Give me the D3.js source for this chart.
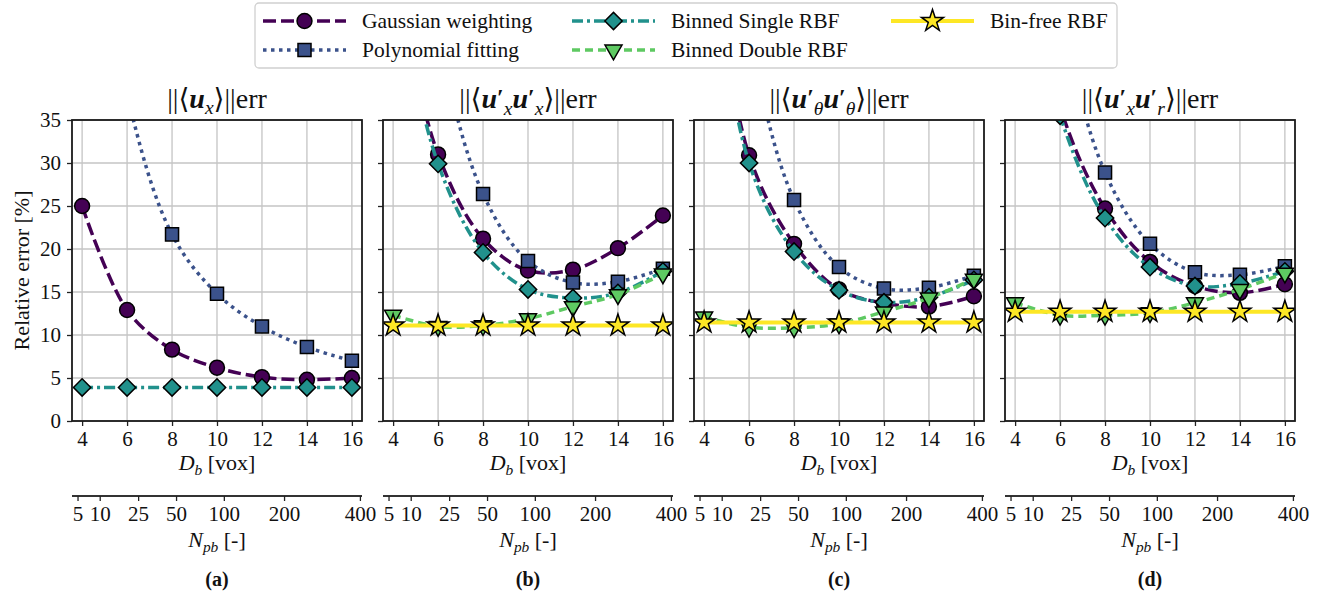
<!DOCTYPE html>
<html>
<head>
<meta charset="utf-8">
<script src="https://cdn.jsdelivr.net/npm/d3@7"></script>
<style>
  body { margin: 0; background: #fff; }
  svg, svg text { font-family: "Liberation Serif", "DejaVu Serif", serif; }
</style>
</head>
<body>
<div id="vis"></div>
<script>
// Tick values / labels
const dbTicks = [4, 6, 8, 10, 12, 14, 16];
const npbTicks = [5, 10, 25, 50, 100, 200, 400];
const yTicks = [0, 5, 10, 15, 20, 25, 30, 35];
const panelLabels = ['(a)', '(b)', '(c)', '(d)'];
const methodNames = ['Gaussian weighting', 'Polynomial fitting', 'Binned Single RBF', 'Binned Double RBF', 'Bin-free RBF'];

// Relative error [%] at D_b = 4..16, one row per panel (values > 35 run off the top)
const gaussianErr = [
  [25.0, 12.9, 8.3, 6.2, 5.1, 4.8, 5.0],
  [52, 31.0, 21.2, 17.5, 17.6, 20.1, 23.9],
  [60, 30.9, 20.6, 15.3, 13.7, 13.3, 14.5],
  [60, 36.5, 24.7, 18.5, 15.7, 14.9, 15.9]
];
const polyErr = [
  [70, 38, 21.7, 14.8, 11.0, 8.6, 7.0],
  [80, 45, 26.4, 18.6, 16.1, 16.2, 17.7],
  [80, 45, 25.7, 17.9, 15.4, 15.5, 16.9],
  [85, 48, 28.9, 20.6, 17.3, 17.0, 18.0]
];
const singleErr = [
  [3.9, 3.9, 3.9, 3.9, 3.9, 3.9, 3.9],
  [52, 29.9, 19.6, 15.3, 14.3, 14.9, 17.4],
  [60, 30.0, 19.7, 15.2, 13.8, 14.4, 16.4],
  [58, 35.5, 23.6, 17.9, 15.7, 16.0, 17.4]
];
const doubleErr = [
  null,
  [12.3, 11.0, 11.1, 11.9, 13.3, 14.7, 17.1],
  [12.1, 10.9, 10.85, 11.3, 12.7, 14.3, 16.5],
  [13.75, 12.3, 12.3, 12.6, 13.75, 15.3, 17.2]
];
const binfreeErr = [
  null,
  [11.1, 11.1, 11.1, 11.1, 11.1, 11.1, 11.1],
  [11.45, 11.45, 11.45, 11.45, 11.45, 11.45, 11.45],
  [12.7, 12.7, 12.7, 12.7, 12.7, 12.7, 12.7]
];
const methodData = [gaussianErr, polyErr, singleErr, doubleErr, binfreeErr];

// D_b ~ 2.22 * N_pb^(1/3)
const npbFactor = 2.22;

// Titles as math tokens
const panelTitles = [
  [['n', '||⟨'], ['b', 'u'], ['sub', 'x'], ['n', '⟩||err']],
  [['n', '||⟨'], ['b', 'u'], ['pr', 'x'], ['b', 'u'], ['pr', 'x'], ['n', '⟩||err']],
  [['n', '||⟨'], ['b', 'u'], ['pr', 'θ'], ['b', 'u'], ['pr', 'θ'], ['n', '⟩||err']],
  [['n', '||⟨'], ['b', 'u'], ['pr', 'x'], ['b', 'u'], ['pr', 'r'], ['n', '⟩||err']]
];

// Styles
const methodStyles = [
  { color: '#440154', dash: '13,5', width: 3.5, symbol: d3.symbolCircle, size: 175, rotate: 0 },
  { color: '#3b528b', dash: '3.5,4.5', width: 3.5, symbol: d3.symbolSquare, size: 170, rotate: 0 },
  { color: '#21918c', dash: '11,4,3,4', width: 3.5, symbol: d3.symbolSquare, size: 150, rotate: 45 },
  { color: '#5ec962', dash: '8,5', width: 3.5, symbol: d3.symbolTriangle, size: 125, rotate: 180 },
  { color: '#fde725', dash: null, width: 4, symbol: d3.symbolStar, size: 150, rotate: 0 }
];

const FONT = 'Liberation Serif';
const W = 1320, H = 596;
const panelLeft = [72, 383, 694, 1005];
const panelW = 290;
const plotTop = 120, plotBottom = 421;
const npbAxisY = 496;

const svg = d3.select('#vis').append('svg')
  .attr('width', W).attr('height', H)
  .attr('font-family', FONT);

// simple math text: n normal, i italic, b bold italic, sub subscript, pr prime + subscript
function writeMath(text, tokens, size) {
  let shift = 0;
  tokens.forEach(([kind, s]) => {
    if (kind === 'n' || kind === 'i' || kind === 'b') {
      const t = text.append('tspan').attr('dy', -shift).text(s);
      if (kind !== 'n') t.attr('font-style', 'italic');
      if (kind === 'b') t.attr('font-weight', 'bold');
      shift = 0;
    } else if (kind === 'sub') {
      const d = 0.22 * size;
      text.append('tspan').attr('dy', d - shift).attr('font-size', 0.7 * size)
        .attr('font-style', 'italic').text(s);
      shift = d;
    } else if (kind === 'pr') {
      const up = -0.1 * size;
      text.append('tspan').attr('dy', up - shift).attr('font-size', 0.85 * size)
        .attr('font-weight', 'bold').text('′');
      shift = up;
      const d = 0.24 * size;
      text.append('tspan').attr('dy', d - shift)
        .attr('font-size', 0.7 * size).attr('font-style', 'italic').text(s);
      shift = d;
    }
  });
}

function drawMarkers(g, pts, st) {
  g.selectAll(null).data(pts).join('path')
    .attr('d', d3.symbol().type(st.symbol).size(st.size))
    .attr('transform', d => `translate(${d[0]},${d[1]}) rotate(${st.rotate})`)
    .attr('fill', st.color)
    .attr('stroke', '#000')
    .attr('stroke-width', 1.5);
}

function styleAxis(a) {
  a.attr('font-family', FONT);
  a.select('.domain').remove();
  a.selectAll('line').attr('stroke', '#222').attr('stroke-width', 1.3);
  a.selectAll('text').attr('font-size', 21).attr('fill', '#111').attr('font-family', FONT);
}

panelLeft.forEach((x0, i) => {
  const g = svg.append('g');
  const xScale = d3.scaleLinear().domain([3.55, 16.45]).range([x0, x0 + panelW]);
  const yScale = d3.scaleLinear().domain([0, 35]).range([plotBottom, plotTop]);
  const cx = x0 + panelW / 2;

  // grid
  g.selectAll(null).data(dbTicks).join('line')
    .attr('x1', d => xScale(d)).attr('x2', d => xScale(d))
    .attr('y1', plotTop).attr('y2', plotBottom)
    .attr('stroke', '#c4c4c4').attr('stroke-width', 1.3);
  g.selectAll(null).data(yTicks).join('line')
    .attr('x1', x0).attr('x2', x0 + panelW)
    .attr('y1', d => yScale(d)).attr('y2', d => yScale(d))
    .attr('stroke', '#c4c4c4').attr('stroke-width', 1.3);

  // clip
  const clipId = 'clip' + i;
  svg.append('clipPath').attr('id', clipId).append('rect')
    .attr('x', x0).attr('y', plotTop).attr('width', panelW).attr('height', plotBottom - plotTop);
  const plot = g.append('g').attr('clip-path', `url(#${clipId})`);

  const line = d3.line()
    .x(d => d[0]).y(d => d[1])
    .curve(d3.curveCatmullRom.alpha(0.5));

  methodData.forEach((series, m) => {
    const vals = series[i];
    if (!vals) return;
    const st = methodStyles[m];
    const pts = vals.map((v, k) => [xScale(dbTicks[k]), yScale(v)]);
    plot.append('path')
      .attr('d', line(pts))
      .attr('fill', 'none')
      .attr('stroke', st.color)
      .attr('stroke-width', st.width)
      .attr('stroke-dasharray', st.dash);
    drawMarkers(plot, pts, st);
  });

  // axes
  const xAxis = g.append('g')
    .attr('transform', `translate(0,${plotBottom})`)
    .call(d3.axisBottom(xScale).tickValues(dbTicks).tickSize(5).tickPadding(5));
  const yAxis = g.append('g')
    .attr('transform', `translate(${x0},0)`)
    .call(d3.axisLeft(yScale).tickValues(yTicks).tickSize(5).tickPadding(6));
  if (i > 0) yAxis.selectAll('text').remove();
  styleAxis(xAxis);
  styleAxis(yAxis);

  // spines
  g.append('rect')
    .attr('x', x0).attr('y', plotTop).attr('width', panelW).attr('height', plotBottom - plotTop)
    .attr('fill', 'none').attr('stroke', '#1a1a1a').attr('stroke-width', 1.8);

  // title
  const title = g.append('text').attr('x', cx).attr('y', 108)
    .attr('text-anchor', 'middle').attr('font-size', 28).attr('fill', '#111');
  writeMath(title, panelTitles[i], 28);

  // D_b label
  const xl = g.append('text').attr('x', cx).attr('y', 470)
    .attr('text-anchor', 'middle').attr('font-size', 22).attr('fill', '#111');
  writeMath(xl, [['i', 'D'], ['sub', 'b'], ['n', ' [vox]']], 22);

  // secondary N_pb axis
  const npbScale = d3.scalePow().exponent(1 / 3)
    .domain([npbTicks[0], npbTicks[npbTicks.length - 1]])
    .range([xScale(npbFactor * Math.cbrt(npbTicks[0])), xScale(npbFactor * Math.cbrt(npbTicks[npbTicks.length - 1]))]);
  g.append('line')
    .attr('x1', x0).attr('x2', x0 + panelW)
    .attr('y1', npbAxisY).attr('y2', npbAxisY)
    .attr('stroke', '#333').attr('stroke-width', 2);
  const nAxis = g.append('g')
    .attr('transform', `translate(0,${npbAxisY})`)
    .call(d3.axisBottom(npbScale).tickValues(npbTicks).tickFormat(d3.format('d')).tickSize(5).tickPadding(5));
  styleAxis(nAxis);

  const nl = g.append('text').attr('x', cx).attr('y', 547)
    .attr('text-anchor', 'middle').attr('font-size', 22).attr('fill', '#111');
  writeMath(nl, [['i', 'N'], ['sub', 'pb'], ['n', ' [-]']], 22);

  g.append('text').attr('x', cx).attr('y', 586)
    .attr('text-anchor', 'middle').attr('font-size', 20).attr('font-weight', 'bold')
    .attr('fill', '#111').text(panelLabels[i]);
});

// y label
svg.append('text')
  .attr('transform', `translate(29,${(plotTop + plotBottom) / 2}) rotate(-90)`)
  .attr('text-anchor', 'middle').attr('font-size', 22).attr('fill', '#111')
  .text('Relative error [%]');

// legend
const legendCols = [[0, 1], [2, 3], [4]];
const legendHandleX = [263, 572, 891];
const legendRowY = [21, 50];
const handleLen = 83;
const legend = svg.append('g');
legend.append('rect')
  .attr('x', 255).attr('y', 3).attr('width', 862).attr('height', 65).attr('rx', 4)
  .attr('fill', '#fff').attr('stroke', '#d0d0d0').attr('stroke-width', 1.3);
legendCols.forEach((col, c) => {
  col.forEach((m, r) => {
    const st = methodStyles[m];
    const hx = legendHandleX[c], hy = legendRowY[r];
    legend.append('line')
      .attr('x1', hx).attr('x2', hx + handleLen).attr('y1', hy).attr('y2', hy)
      .attr('stroke', st.color).attr('stroke-width', st.width)
      .attr('stroke-dasharray', st.dash);
    drawMarkers(legend, [[hx + handleLen / 2, hy]], st);
    legend.append('text')
      .attr('x', hx + handleLen + 16).attr('y', hy + 7)
      .attr('font-size', 21.5).attr('fill', '#111')
      .text(methodNames[m]);
  });
});
</script>
</body>
</html>
